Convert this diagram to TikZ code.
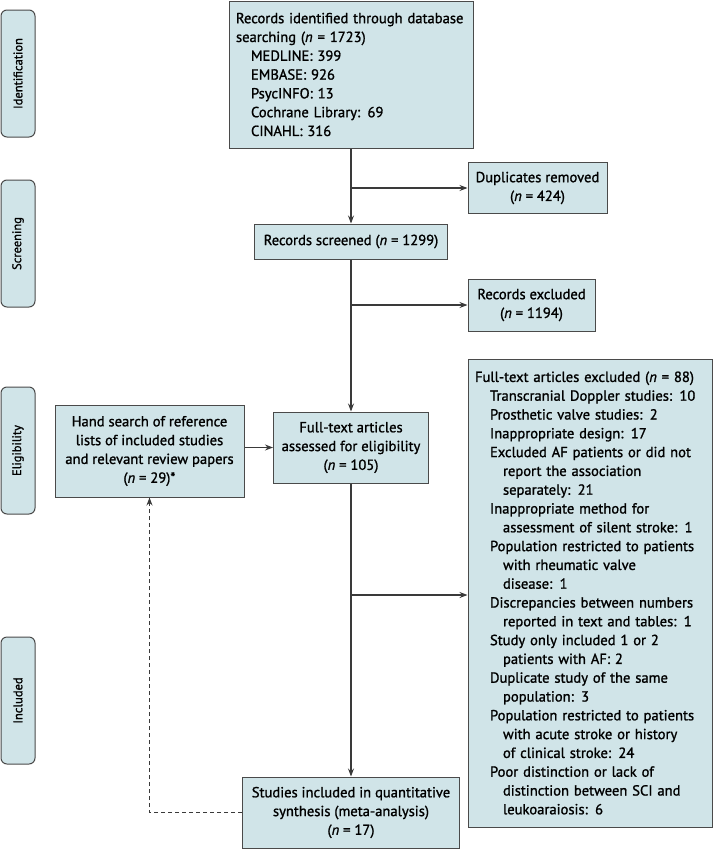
\documentclass[tikz,border=0pt]{standalone}
\usepackage{fontspec}
\setmainfont{PT Sans}[UprightFeatures={FakeBold=1.2}, ItalicFeatures={FakeBold=1.2}]
\usetikzlibrary{arrows.meta}
\definecolor{boxfill}{HTML}{D0E4E8}
\definecolor{boxline}{HTML}{4A4A4A}
\definecolor{arr}{HTML}{3A3A3A}
\newcommand\indA{\hspace*{15pt}}
\newcommand\indB{\hspace*{28pt}}
\begin{document}
\begin{tikzpicture}[x=1pt,y=-1pt,
  box/.style={draw=boxline, fill=boxfill, line width=1pt, inner sep=0pt, text=black,
    font=\fontsize{14.6}{18.8}\selectfont},
  stage/.style={box, rounded corners=6pt, rotate=90, minimum width=127pt, minimum height=34pt,
    font=\fontsize{12.5}{15}\selectfont},
  conn/.style={draw=arr, line width=1.1pt, -{Stealth[length=8pt,width=6pt]}},
  dashconn/.style={conn, dash pattern=on 4pt off 3pt}
]
\useasboundingbox (0,0) rectangle (713,849);

% stage labels
\node[stage] (sid) at (18,73.5) {Identification};
\node[stage] (ssc) at (18,243.5) {Screening};
\node[stage] (sel) at (18,450.5) {Eligibility};
\node[stage] (sin) at (18,700.5) {Included};

% boxes
\node[box, minimum width=244pt, minimum height=147pt, text width=230pt, align=left] (top) at (351,74.5)
 {Records identified through database\\
  searching (\textit{n} = 1723)\\
  \indA MEDLINE: 399\\
  \indA EMBASE: 926\\
  \indA PsycINFO: 13\\
  \indA Cochrane Library: 69\\
  \indA CINAHL: 316};

\node[box, minimum width=139pt, minimum height=51pt, align=center] (dup) at (537.5,188)
 {Duplicates removed\\(\textit{n} = 424)};

\node[box, minimum width=193pt, minimum height=35pt, align=center] (scr) at (351,241.5)
 {Records screened (\textit{n} = 1299)};

\node[box, minimum width=127pt, minimum height=52pt, align=center] (ex1) at (531.5,305)
 {Records excluded\\(\textit{n} = 1194)};

\node[box, minimum width=189pt, minimum height=92pt, align=center] (hand) at (149.5,451)
 {Hand search of reference\\lists of included studies\\and relevant review papers\\(\textit{n} = 29)*};

\node[box, minimum width=155pt, minimum height=71pt, align=center] (full) at (351,447.5)
 {Full-text articles\\assessed for eligibility\\(\textit{n} = 105)};

\node[box, minimum width=244pt, minimum height=468pt, text width=230pt, align=left] (ex2) at (590,593)
 {Full-text articles excluded (\textit{n} = 88)\\
  \indA Transcranial Doppler studies: 10\\
  \indA Prosthetic valve studies: 2\\
  \indA Inappropriate design: 17\\
  \indA Excluded AF patients or did not\\
  \indB report the association\\
  \indB separately: 21\\
  \indA Inappropriate method for\\
  \indB assessment of silent stroke: 1\\
  \indA Population restricted to patients\\
  \indB with rheumatic valve\\
  \indB disease: 1\\
  \indA Discrepancies between numbers\\
  \indB reported in text and tables: 1\\
  \indA Study only included 1 or 2\\
  \indB patients with AF: 2\\
  \indA Duplicate study of the same\\
  \indB population: 3\\
  \indA Population restricted to patients\\
  \indB with acute stroke or history\\
  \indB of clinical stroke: 24\\
  \indA Poor distinction or lack of\\
  \indB distinction between SCI and\\
  \indB leukoaraiosis: 6};

\node[box, minimum width=217pt, minimum height=71pt, align=center] (stud) at (351,812.5)
 {Studies included in quantitative\\synthesis (meta-analysis)\\(\textit{n} = 17)};

% connectors
\coordinate (b1) at (351,188);
\coordinate (b2) at (351,305);
\coordinate (b3) at (351,595);
\draw[conn] (top.south) -- (scr.north);
\draw[conn] (b1) -- (dup.west);
\draw[conn] (scr.south) -- (full.north);
\draw[conn] (b2) -- (ex1.west);
\draw[conn] (hand.east |- full.west) -- (full.west);
\draw[conn] (full.south) -- (stud.north);
\draw[conn] (b3) -- (b3 -| ex2.west);
\draw[dashconn] (stud.west) -| (hand.south);
\end{tikzpicture}
\end{document}
